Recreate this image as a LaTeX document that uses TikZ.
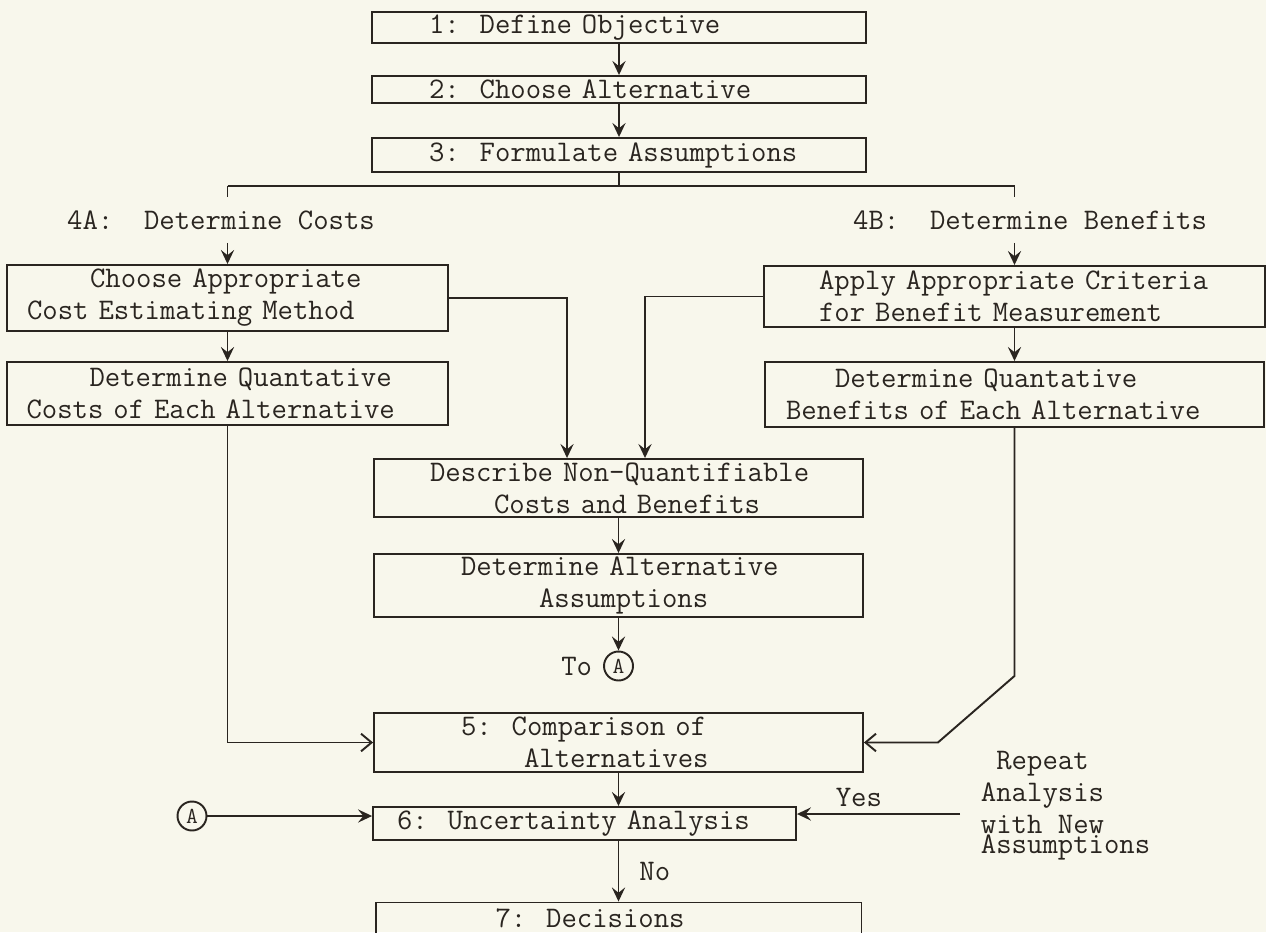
\documentclass[tikz,border=0pt]{standalone}
\usepackage{fontspec}
\usetikzlibrary{arrows.meta,positioning,calc}
\definecolor{paper}{HTML}{F8F7EC}
\definecolor{ink}{HTML}{2A2520}
\newcommand*{\twfont}{\fontsize{17}{18.2}\selectfont\ttfamily}
\newcommand*{\lpad}[1]{\hspace*{#1cm}}

\begin{document}
\begin{tikzpicture}[x=0.02cm, y=-0.02cm, >={Stealth[length=8pt,width=7.5pt,inset=3pt]}, line width=1.1pt, color=ink, font=\twfont]
    \tikzstyle{stepbox}=[draw, align=left, inner xsep=0.2cm, inner ysep=0pt]
    \tikzstyle{note}=[inner sep=0pt, align=left]
    \tikzstyle{conn}=[draw, circle, inner sep=0pt, minimum size=0.58cm, font=\fontsize{13}{13}\selectfont\ttfamily]
    \tikzstyle{openarrow}=[-{Straight Barb[length=6pt,width=10pt]}]
    \fill[paper] (0,0) rectangle (1266,932);
    \useasboundingbox (0,0) rectangle (1266,932);
    \node[stepbox, text width=9.48cm, minimum height=0.62cm] (A) at (619,27.5) {\lpad{0.94}1:~~Define Objective};
    \node[stepbox, text width=9.48cm, minimum height=0.54cm] (B) at (619,89.5) {\lpad{0.94}2:~~Choose Alternative};
    \node[stepbox, text width=9.48cm, minimum height=0.68cm] (C) at (619,155) {\lpad{0.94}3:~~Formulate Assumptions};
    \node[note, inner ysep=0.25cm] (T4A) at (221,220) {4A:~~Determine Costs};
    \node[note, inner ysep=0.25cm] (T4B) at (1030,220) {4B:~~Determine Benefits};
    \node[stepbox, text width=8.42cm, minimum height=1.32cm] (D) at (227.5,298) {\lpad{1.46}Choose Appropriate\\\lpad{0.2}Cost Estimating Method};
    \node[stepbox, text width=8.44cm, minimum height=1.26cm] (E) at (227.5,393.5) {\lpad{1.46}Determine Quantative\\\lpad{0.2}Costs of Each Alternative};
    \node[stepbox, text width=9.62cm, minimum height=1.22cm] (F) at (1014.5,296.5) {\lpad{0.9}Apply Appropriate Criteria\\\lpad{0.9}for Benefit Measurement};
    \node[stepbox, text width=9.58cm, minimum height=1.30cm] (G) at (1014.5,394.5) {\lpad{1.2}Determine Quantative\\\lpad{0.22}Benefits of Each Alternative};
    \node[stepbox, text width=9.38cm, minimum height=1.16cm] (H) at (618.5,488) {\lpad{0.92}Describe Non-Quantifiable\\\lpad{2.2}Costs and Benefits};
    \node[stepbox, text width=9.38cm, minimum height=1.26cm] (I) at (618.5,585.5) {\lpad{1.54}Determine Alternative\\\lpad{3.1}Assumptions};
    \node[conn] (TA) at (618.5,666) {A};
    \node[note, left=0.2cm of TA] (To) {To};
    \node[stepbox, text width=9.38cm, minimum height=1.18cm] (K) at (618.5,742.5) {\lpad{1.54}5:~~Comparison of\\\lpad{2.8}Alternatives};
    \node[stepbox, text width=8.06cm, minimum height=0.66cm] (L) at (584.5,823.5) {\lpad{0.28}6:~~Uncertainty Analysis};
    \node[stepbox, text width=9.32cm, minimum height=0.62cm] (M) at (618.5,918) {\lpad{2.2}7:~~Decisions};
    \node[conn] (PA) at (192,816) {A};
    \node[note, anchor=north west] (Q) at (980,750) {~Repeat\\Analysis\\with New};
    \node[note, anchor=north west] (Q2) at (Q.south west) {Assumptions};
    \coordinate (J) at (619,186);
    \coordinate (R) at (960,814);
    \coordinate (Kb) at ($(K.east)+(74,0)$);
    \draw[->] (A) -- (B);
    \draw[->] (B) -- (C);
    \draw (C) -- (J);
    \draw (J -| D) -- (J -| F);
    \draw (J -| D) -- (T4A.north -| D);
    \draw[->] (T4A.south -| D) -- (D);
    \draw (J -| F) -- (T4B.north -| F);
    \draw[->] (T4B.south -| F) -- (F);
    \draw[->] (D) -- (E);
    \draw[->] (F) -- (G);
    \draw[->] (D.east) -| ([xshift=-1.03cm]H.north);
    \draw[->] (F.west) -| ([xshift=0.53cm]H.north);
    \draw[->] (H) -- (I);
    \draw[->] (I) -- (TA);
    \draw[openarrow] (E.south) |- (K.west);
    \draw[openarrow] (G.south) -- ++(0,248) -- (Kb) -- (K.east);
    \draw[->] (K.south) -- (K.south |- L.north);
    \draw[->] (PA) -- (PA -| L.west);
    \draw[->] (R) -- (R -| L.east) node[note, pos=0.62, above=0.13cm] {Yes};
    \draw[->] (K.south |- L.south) -- (K.south |- M.north) node[note, midway, right=0.4cm] {No};
\end{tikzpicture}
\end{document}
